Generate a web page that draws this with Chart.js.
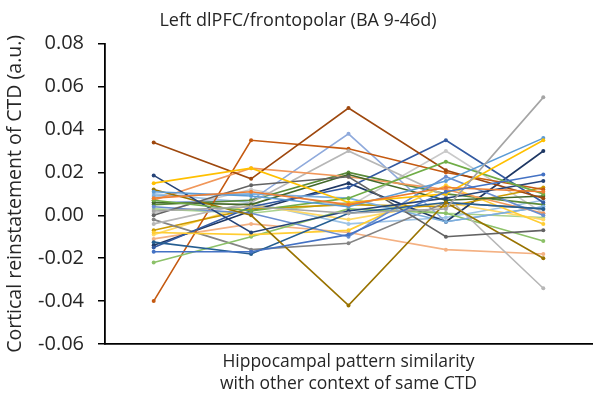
<!DOCTYPE html>
<html lang="en">
<head>
  <meta charset="UTF-8">
  <title>Left dlPFC/frontopolar (BA 9-46d)</title>
  <script src="https://cdn.jsdelivr.net/npm/chart.js"></script>
  <style>
    body {
      margin: 0;
      background-color: #ffffff;
      font-family: 'Open Sans', sans-serif;
    }
    .wrap {
      width: 596px;
      height: 402px;
    }
  </style>
</head>
<body>
  <div class="wrap">
    <canvas id="chart" width="596" height="402"></canvas>
  </div>

  <script>
    // five similarity bins along x, no labels shown
    const categories = ['1', '2', '3', '4', '5'];
    const yTicks = [-0.06, -0.04, -0.02, 0.00, 0.02, 0.04, 0.06, 0.08];

    // one list per participant
    const s01 = [-0.017, -0.017, -0.009, 0.011, 0.019];
    const s02 = [0.008, 0.011, 0.005, 0.013, 0.011];
    const s03 = [0.002, 0.004, 0.001, 0.003, 0.055];
    const s04 = [0.015, 0.022, 0.006, 0.010, 0.035];
    const s05 = [0.011, 0.009, 0.004, 0.016, 0.036];
    const s06 = [0.007, 0.002, 0.008, 0.025, 0.010];
    const s07 = [0.0186, -0.008, 0.002, 0.008, 0.016];
    const s08 = [0.034, 0.017, 0.050, 0.021, 0.008];
    const s09 = [0.000, 0.014, 0.018, -0.010, -0.007];
    const s10 = [0.012, 0.000, -0.042, 0.006, -0.020];
    const s11 = [-0.0125, -0.018, 0.001, 0.006, 0.003];
    const s12 = [0.006, 0.005, 0.019, 0.007, 0.009];
    const s13 = [0.004, 0.001, -0.010, 0.018, 0.000];
    const s14 = [0.007, 0.022, 0.018, 0.012, 0.001];
    const s15 = [-0.004, 0.006, 0.030, 0.009, -0.034];
    const s16 = [-0.008, -0.009, -0.007, 0.014, -0.004];
    const s17 = [0.009, 0.010, 0.008, -0.003, 0.004];
    const s18 = [-0.022, -0.010, 0.003, 0.001, -0.012];
    const s19 = [-0.015, 0.004, 0.013, 0.035, 0.006];
    const s20 = [-0.040, 0.035, 0.031, 0.020, 0.012];
    const s21 = [-0.002, -0.016, -0.013, 0.006, 0.003];
    const s22 = [-0.007, 0.003, 0.005, 0.004, 0.013];
    const s23 = [-0.014, 0.002, 0.015, -0.003, 0.030];
    const s24 = [0.005, 0.007, 0.020, 0.010, 0.005];
    const s25 = [0.006, 0.007, 0.038, -0.003, 0.004];
    const s26 = [-0.011, -0.004, -0.008, -0.016, -0.018];
    const s27 = [0.001, 0.012, 0.004, 0.030, 0.001];
    const s28 = [-0.009, 0.005, -0.002, 0.006, -0.002];
    const s29 = [0.010, 0.006, -0.004, -0.001, 0.007];
    const s30 = [0.003, 0.001, 0.006, 0.001, -0.001];

    const series = [s01, s02, s03, s04, s05, s06, s07, s08, s09, s10,
                    s11, s12, s13, s14, s15, s16, s17, s18, s19, s20,
                    s21, s22, s23, s24, s25, s26, s27, s28, s29, s30];

    const colors = [
      '#4472C4', '#ED7D31', '#A5A5A5', '#FFC000', '#5B9BD5', '#70AD47',
      '#264478', '#9E480E', '#636363', '#997300', '#255E91', '#43682B',
      '#698ED0', '#F1975A', '#B7B7B7', '#FFCD33', '#7CAFDD', '#8CC168',
      '#335AA1', '#C55A11', '#848484', '#CC9A00', '#1F3864', '#5A8A39',
      '#8FAADC', '#F4B183', '#C9C9C9', '#FFD966', '#9DC3E6', '#A9D18E'
    ];

    const txt = '#262626';
    const font = "'Open Sans', sans-serif";

    const datasets = series.map((vals, i) => ({
      label: 'P' + (i + 1),
      data: vals,
      borderColor: colors[i],
      backgroundColor: colors[i],
      borderWidth: 1.6,
      pointRadius: 2,
      pointBorderWidth: 0,
      tension: 0,
      fill: false
    }));

    new Chart(document.getElementById('chart'), {
      type: 'line',
      data: { labels: categories, datasets: datasets },
      options: {
        responsive: false,
        animation: false,
        layout: { padding: { left: 0, right: 0, top: 0, bottom: 0 } },
        plugins: {
          legend: { display: false },
          tooltip: { enabled: false },
          title: {
            display: true,
            text: 'Left dlPFC/frontopolar (BA 9-46d)',
            color: txt,
            font: { family: font, size: 18, weight: 'normal', lineHeight: 1.375 },
            padding: { top: 8, bottom: 11 }
          }
        },
        scales: {
          x: {
            type: 'category',
            offset: true,
            ticks: { display: false },
            grid: { display: true, drawOnChartArea: false, drawTicks: false },
            border: { display: true, color: '#000000', width: 1.8 },
            title: {
              display: true,
              text: ['Hippocampal pattern similarity', 'with other context of same CTD'],
              color: txt,
              font: { family: font, size: 17.5, lineHeight: 1.26 },
              padding: { top: 4, bottom: 7 }
            },
            afterFit: (scale) => { scale.height = 58; }
          },
          y: {
            min: -0.06,
            max: 0.08,
            afterBuildTicks: (scale) => {
              scale.ticks = yTicks.map(v => ({ value: v }));
            },
            ticks: {
              color: txt,
              font: { family: font, size: 20 },
              padding: 14,
              callback: (v) => Number(v).toFixed(2)
            },
            grid: {
              display: true,
              drawOnChartArea: false,
              drawTicks: true,
              tickLength: 7,
              color: '#000000',
              lineWidth: 1.5
            },
            border: { display: true, color: '#000000', width: 1.8 },
            title: {
              display: true,
              text: 'Cortical reinstatement of CTD (a.u.)',
              color: txt,
              font: { family: font, size: 19.5, lineHeight: 1.3 },
              padding: { top: 3, bottom: 0 }
            },
            afterFit: (scale) => { scale.width = 105; }
          }
        }
      }
    });
  </script>
</body>
</html>
